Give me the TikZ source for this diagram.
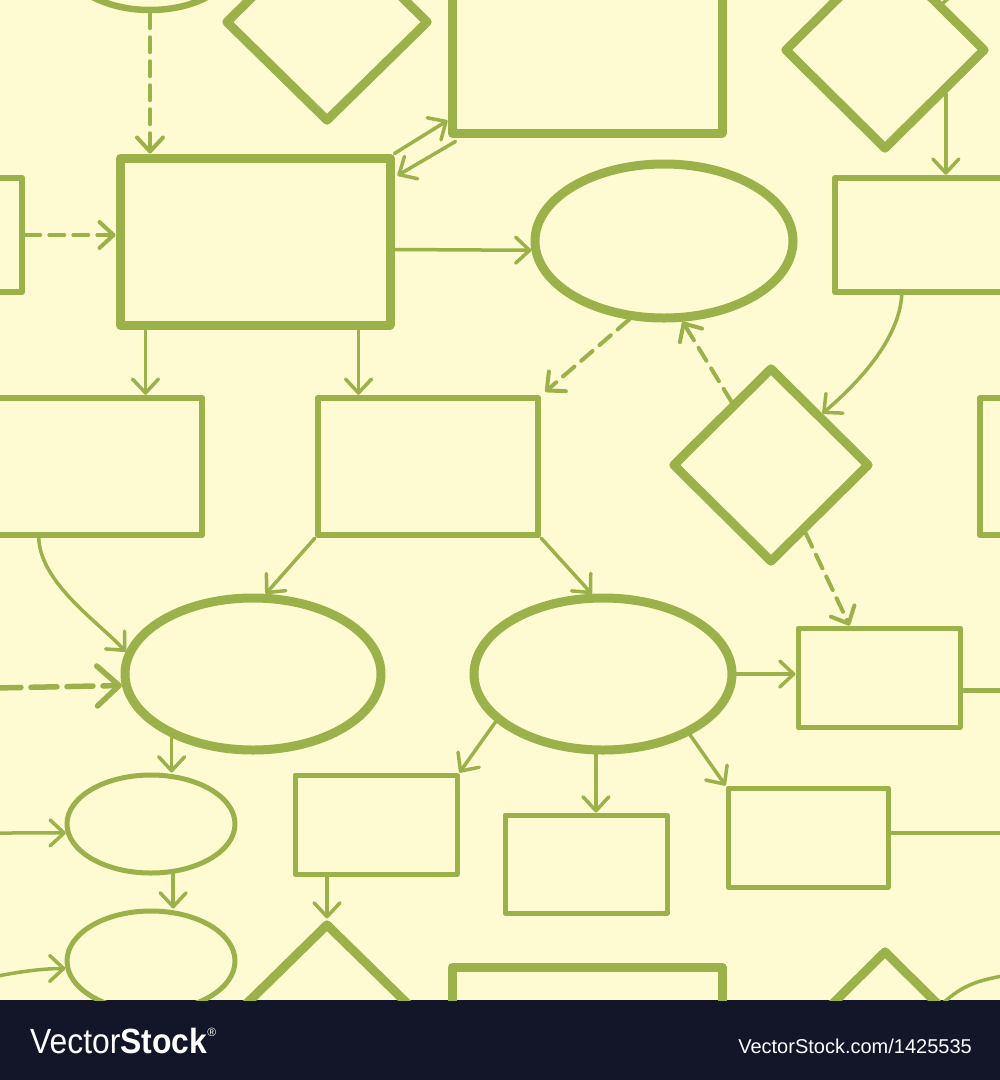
\documentclass[tikz,border=0pt]{standalone}
\usepackage{fontspec}
\setmainfont{Liberation Sans}
\usetikzlibrary{shapes.geometric,arrows.meta,calc}
\definecolor{bgc}{HTML}{FEFBD3}
\definecolor{grn}{HTML}{9BB24A}
\definecolor{foot}{HTML}{131628}
\begin{document}
\begin{tikzpicture}[x=1pt,y=-1pt,
  shp/.style={draw=grn, inner sep=0pt, line join=round},
  box/.style={shp, rectangle},
  oval/.style={shp, ellipse},
  dia/.style={shp, diamond},
  sz/.style 2 args={minimum width=#1pt, minimum height=#2pt},
  thk/.style={line width=9pt},
  med/.style={line width=6.5pt},
  thn/.style={line width=5pt},
  gline/.style={draw=grn, line width=3.5pt, line cap=round},
  conn/.style={gline, -{Straight Barb[length=14pt,width=26pt,round]}},
  dconn/.style={conn, line width=4pt, dash pattern=on 15pt off 9pt},
  tconn/.style={gline, line width=5.5pt, dash pattern=on 26pt off 10pt, -{Straight Barb[length=22pt,width=40pt,round]}}
]
\useasboundingbox (0,0) rectangle (1000,1080);
\fill[bgc] (0,0) rectangle (1000,1000);
\fill[foot] (0,1000) rectangle (1000,1080);

\begin{scope}
\clip (0,0) rectangle (1000,1000);
% shapes
\node[oval, med, sz={170}{100}] (E0) at (150,-40) {};
\node[dia, thk, sz={204}{200}] (T0) at (327,22) {};
\node[box, thk, sz={270}{166}] (R0) at (587,50) {};
\node[dia, thk, sz={202}{200}] (D0) at (885,50) {};
\node[box, thk, sz={270}{167}] (A) at (255,241.5) {};
\node[box, med, sz={187}{114}] (Bl) at (-71.5,235) {};
\node[box, med, sz={187}{114}] (B) at (928.5,235) {};
\node[oval, thk, sz={258}{154}] (C) at (664,241) {};
\node[box, med, sz={222}{137}] (D) at (91,466.5) {};
\node[box, med, sz={222}{137}] (Dr) at (1091,466.5) {};
\node[box, med, sz={220}{137}] (E) at (428,466.5) {};
\node[dia, thk, sz={198}{196}] (F) at (771,465) {};
\node[oval, thk, sz={256}{152}] (G) at (253,674) {};
\node[oval, thk, sz={258}{152}] (H) at (603,674) {};
\node[box, thn, sz={162}{99}] (I) at (879,677.5) {};
\node[oval, thn, sz={168}{98}] (J) at (151,824) {};
\node[oval, thn, sz={168}{100}] (K) at (151,961) {};
\node[box, thn, sz={162}{99}] (L) at (376,824.5) {};
\node[box, thn, sz={162}{98}] (M) at (586,864) {};
\node[box, thn, sz={160}{99}] (N) at (808,837.5) {};
\node[dia, thk, sz={204}{200}] (T1) at (327,1023) {};
\node[box, thk, sz={270}{166}] (R1) at (587,1050) {};
\node[dia, thk, sz={202}{200}] (D1) at (885,1050) {};

% connectors
\draw[dconn] (E0.south) -- (E0.south |- A.north);
\draw[dconn] (Bl.east) -- (Bl.east -| A.west);
\draw[conn] (A.north east) -- ($(R0.south west)+(0,-17)$);
\draw[conn] ($(R0.south west)+(8,4)$) -- ($(A.north east)+(3,22)$);
\draw[conn] ($(A.east)+(0,8)$) -- (C.184);
\coordinate (a5) at ($(A.south west)+(30,0)$);
\draw[conn] (a5) -- (a5 |- D.north);
\coordinate (a6) at ($(A.south west)+(243,0)$);
\draw[conn] (a6) -- (a6 |- E.north);
\draw[dconn] (C.246) -- ($(E.north east)+(4,-3)$);
\draw[dconn] (F.122) -- (C.283);
\draw[conn] (D0.324) -- (D0.324 |- B.north);
\draw[conn] ($(B.south west)+(70,0)$) .. controls +(-3,45) and +(35,-30) .. (F.45);
\draw[conn] ($(D.south west)+(62,0)$) .. controls +(2,45) and +(-28,-30) .. (G.170);
\draw[conn] (E.south west) -- (G.81);
\draw[conn] (E.south east) -- (H.98);
\draw[dconn] (F.297) -- ($(I.north west)+(54,0)$);
\draw[conn] (H.east) -- (H.east -| I.west);
\coordinate (lw1) at (-5,688);
\draw[tconn] (lw1) -- (G.185);
\draw[conn] (G.218) -- (G.218 |- J.north);
\draw[conn] (J.294) -- (J.294 |- K.north);
\coordinate (lw2) at (-5,833);
\draw[conn] (lw2) -- (J.186);
\coordinate (wl) at (-2,976);
\draw[conn] (wl) .. controls +(25,-5) and +(-20,0) .. (K.185);
\coordinate (wr) at (1002,976);
\draw[gline] (D1.39) .. controls +(20,-18) and +(-25,5) .. (wr);
\coordinate (wrt) at (1002,-24);
\draw[gline] (D0.39) .. controls +(20,-18) and +(-25,5) .. (wrt);
\draw[conn] (H.204) -- (L.north east);
\draw[conn] (H.265) -- (H.265 |- M.north);
\draw[conn] (H.325) -- (N.north west);
\draw[conn] (L.south -| T1.north) -- (T1.north);
\coordinate (re1) at (1005,690);
\draw[gline, line width=5pt] (re1 -| I.east) -- (re1);
\coordinate (re2) at (1005,833);
\draw[gline] (re2 -| N.east) -- (re2);
\end{scope}

% footer
\node[anchor=base west, text=white, inner sep=0pt, font=\fontsize{35}{35}\selectfont] (logo) at (30,1053) {\scalebox{0.91}[1]{Vector\textbf{Stock}}\raisebox{17pt}{\fontsize{12}{12}\selectfont ®}};
\node[anchor=base east, text=white, inner sep=0pt, font=\fontsize{20}{20}\selectfont] (url) at (972,1053) {VectorStock.com/1425535};
\end{tikzpicture}
\end{document}
